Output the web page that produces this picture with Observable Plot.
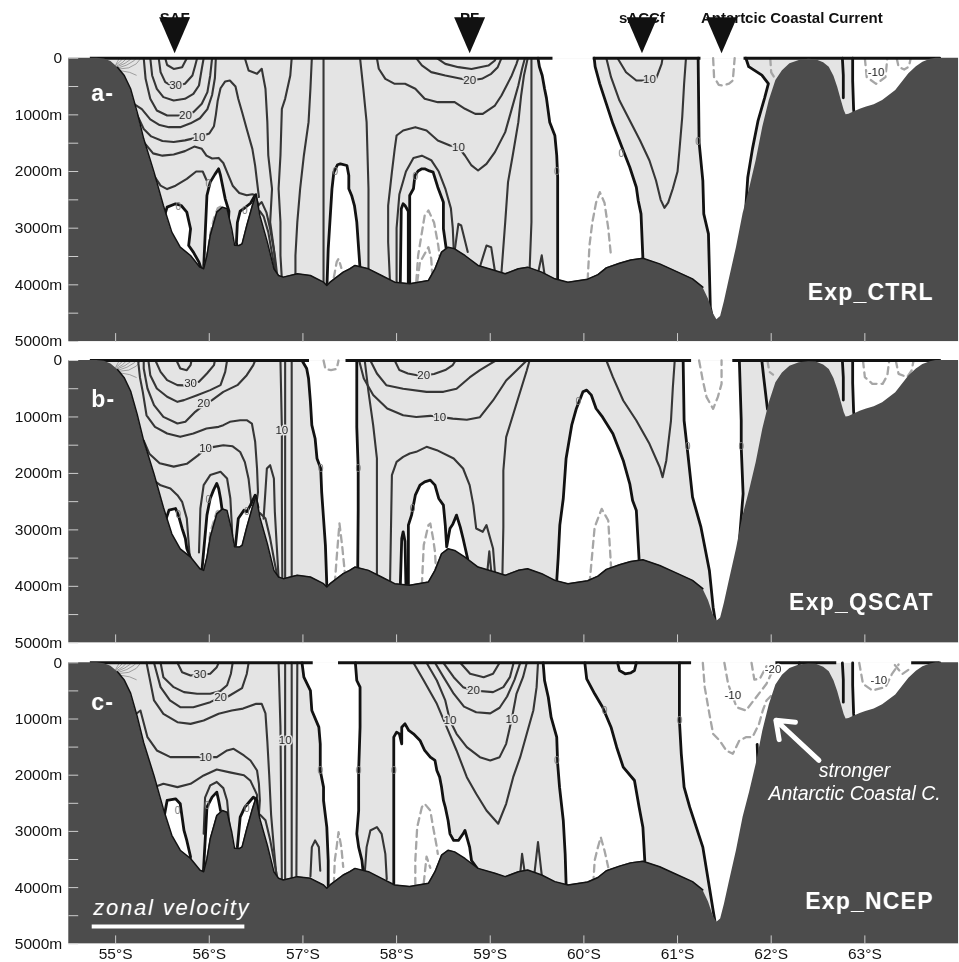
<!DOCTYPE html>
<html>
<head>
<meta charset="utf-8">
<script src="https://cdn.jsdelivr.net/npm/d3@7"></script>
<script src="https://cdn.jsdelivr.net/npm/@observablehq/plot@0.6"></script>
<style>
  html, body { margin: 0; padding: 0; background: #fff; }
  #chart { position: relative; width: 959px; height: 962px; overflow: hidden; filter: grayscale(100%); }
  #chart svg { position: absolute; left: 0; }
</style>
</head>
<body>
<div id="chart"></div>
<script>
// ---------- axes ----------
const latTicks = [55, 56, 57, 58, 59, 60, 61, 62, 63];
const depthLabels = [0, 1000, 2000, 3000, 4000, 5000];
const depthTicks = [0, 500, 1000, 1500, 2000, 2500, 3000, 3500, 4000, 4500, 5000];

// ---------- fronts marked above the first section ----------
const fronts = ["SAF", "PF", "sACCf", "Antartcic Coastal Current"];
const frontLats = [55.63, 58.78, 60.62, 61.47];

const experiments = ["Exp_CTRL", "Exp_QSCAT", "Exp_NCEP"];
const panelLetters = ["a-", "b-", "c-"];

// ---------- bottom topography [lat °S, depth m] ----------
const bathymetry = [
  [54.50,0],[54.80,0],[54.88,15],[54.95,60],[55.02,160],[55.09,300],[55.16,540],[55.23,952],[55.30,1423],
  [55.41,2011],[55.51,2600],[55.60,3070],[55.69,3335],[55.80,3482],[55.90,3688],[55.94,3717],[55.975,3482],
  [56.01,3129],[56.08,2717],[56.14,2629],[56.19,2658],[56.24,3011],[56.27,3300],[56.32,3305],[56.35,3276],
  [56.40,2953],[56.46,2600],[56.50,2394],[56.54,2776],[56.62,3246],[56.69,3717],[56.74,3835],[56.79,3864],
  [56.94,3805],[57.08,3835],[57.22,3953],[57.255,4011],[57.29,3953],[57.43,3776],[57.50,3717],[57.556,3658],
  [57.70,3717],[57.84,3835],[57.98,3953],[58.14,3982],[58.34,3923],[58.41,3717],[58.48,3423],[58.55,3335],
  [58.62,3364],[58.73,3482],[58.87,3658],[59.05,3746],[59.16,3805],[59.30,3717],[59.40,3688],[59.55,3776],
  [59.69,3894],[59.83,3953],[60.04,3900],[60.15,3820],[60.24,3700],[60.38,3618],[60.50,3560],[60.63,3530],
  [60.81,3630],[60.95,3735],[61.16,3894],[61.27,4041],[61.33,4250],[61.38,4500],[61.42,4618],[61.46,4560],
  [61.50,4300],[61.55,3924],[61.63,3335],[61.70,2747],[61.77,2300],[61.84,1806],[61.91,1218],[61.98,747],
  [62.05,394],[62.12,220],[62.20,100],[62.30,41],[62.40,20],[62.48,28],[62.56,80],[62.62,159],[62.67,320],
  [62.71,512],[62.75,750],[62.78,924],[62.80,1000],[62.83,990],[62.87,960],[62.95,900],[63.01,865],
  [63.10,820],[63.19,747],[63.33,571],[63.47,276],[63.55,150],[63.62,70],[63.70,20],[63.76,0],[64.00,0]
];

// tightly packed isotachs at the shelf break
const shelfFan = [
  [[55.00,120],[55.02,60],[55.04,0]],
  [[55.00,130],[55.04,70],[55.08,0]],
  [[55.01,140],[55.07,80],[55.12,0]],
  [[55.02,150],[55.10,90],[55.16,20],[55.17,0]],
  [[55.03,170],[55.12,120],[55.20,40],[55.22,0]],
  [[55.04,190],[55.14,170],[55.22,100],[55.27,0]],
  [[55.05,220],[55.15,250],[55.22,300]]
];

// ================= a- Exp_CTRL =================
const surfaceA = [[54.73,59.67],[60.10,61.25],[61.71,63.80]];
const westwardZonesA = [
  [[55.50,2900],[55.55,2629],[55.64,2570],[55.70,2600],[55.76,2717],[55.80,3011],[55.78,3305],[55.83,3423],[55.89,3600],[55.93,3800],[55.70,4300]],
  [[55.93,3900],[55.94,3700],[55.975,2423],[56.01,2187],[56.06,2050],[56.10,1952],[56.12,2070],[56.17,2482],[56.21,2700],[56.20,3000],[56.05,3600]],
  [[56.30,3400],[56.29,3250],[56.30,2900],[56.33,2700],[56.38,2640],[56.44,2560],[56.49,2420],[56.52,2600],[56.45,3100]],
  [[57.255,4100],[57.27,3365],[57.31,2305],[57.33,2011],[57.37,1880],[57.40,1864],[57.47,1894],[57.49,2070],[57.49,2305],[57.52,2423],[57.55,2600],[57.575,2894],[57.61,3717],[57.60,4100]],
  [[58.04,4100],[58.04,3953],[58.05,2658],[58.07,2570],[58.09,2600],[58.125,2700],[58.125,4100]],
  [[58.14,4100],[58.14,2423],[58.18,2305],[58.196,2070],[58.23,1990],[58.27,1952],[58.30,1952],[58.35,1990],[58.39,2011],[58.44,2276],[58.50,2541],[58.50,3011],[58.53,3364],[58.50,4000]],
  [[59.51,0],[59.525,150],[59.555,305],[59.58,540],[59.60,700],[59.635,1129],[59.69,1364],[59.71,1717],[59.72,2100],[59.72,3924],[59.75,4300],[60.60,4300],[60.63,3530],[60.61,2747],[60.58,2512],[60.56,2277],[60.49,1924],[60.42,1629],[60.31,1159],[60.24,806],[60.17,453],[60.12,150],[60.11,0]],
  [[61.22,0],[61.23,1480],[61.27,2159],[61.28,2747],[61.33,3100],[61.35,4394],[61.40,4800],[61.70,4800],[61.73,2600],[61.75,2100],[61.80,1600],[61.86,1100],[61.93,700],[61.97,450],[61.90,300],[61.76,150],[61.73,0]],
  [[62.87,0],[62.87,400],[62.88,900],[62.90,1200],[63.80,1200],[63.80,0]]
];
const zeroLinesA = [
  [[62.76,0],[62.77,300],[62.77,700]]
];
const eastwardA = [
  [35, [[55.53,0],[55.55,120],[55.62,190],[55.71,160],[55.76,0]]],
  [30, [[55.46,0],[55.48,246],[55.53,423],[55.58,470],[55.66,480],[55.74,452],[55.82,305],[55.85,128],[55.87,0]]],
  [25, [[55.37,0],[55.39,305],[55.44,540],[55.51,687],[55.62,746],[55.74,717],[55.83,629],[55.89,482],[55.92,187],[55.94,0]]],
  [20, [[55.30,0],[55.32,364],[55.37,717],[55.44,923],[55.55,1011],[55.67,1011],[55.83,952],[55.92,805],[55.98,599],[56.01,305],[56.03,0]]],
  [15, [[55.19,800],[55.28,900],[55.37,1080],[55.47,1180],[55.57,1217],[55.69,1217],[55.80,1150],[55.90,1060],[55.98,900],[56.03,650],[56.06,350],[56.07,0]]],
  [10, [[55.23,1000],[55.30,1250],[55.38,1380],[55.50,1460],[55.62,1480],[55.74,1450],[55.89,1393],[56.00,1330],[56.05,1200],[56.07,1000],[56.09,750],[56.12,530],[56.17,410],[56.22,393],[56.28,500],[56.31,720],[56.35,950],[56.40,1250],[56.46,1600],[56.49,1900],[56.51,2180],[56.53,2450]]],
  [5, [[55.31,1500],[55.40,1680],[55.50,1720],[55.62,1700],[55.74,1640],[55.84,1560],[55.92,1600],[55.97,1720],[56.03,1770],[56.10,1760],[56.15,1850],[56.20,2050],[56.25,2250],[56.32,2380],[56.40,2420],[56.46,2400],[56.50,2420]]],
  [5, [[55.40,2050],[55.48,2250],[55.55,2310],[55.64,2250],[55.76,2130],[55.86,2000],[55.93,2000],[55.97,2150]]],
  [10, [[56.38,0],[56.42,217],[56.51,276],[56.56,187],[56.60,540],[56.62,1129],[56.63,1717],[56.67,2305],[56.65,2894],[56.69,3364],[56.71,3750]]],
  [10, [[56.88,0],[56.865,305],[56.81,717],[56.775,894],[56.76,1717],[56.74,2305],[56.76,2894],[56.76,3482],[56.775,3900]]],
  [5, [[57.095,0],[57.08,540],[57.06,1129],[57.01,1717],[56.97,2305],[56.94,2894],[56.92,3482],[56.92,3900]]],
  [5, [[57.22,0],[57.22,4000]]],
  [10, [[56.52,2600],[56.56,2540],[56.61,2720],[56.65,3010],[56.70,3480],[56.73,3900]]],
  [5, [[56.54,2700],[56.58,2790],[56.63,3070],[56.68,3540],[56.72,3900]]],
  [5, [[57.61,0],[57.645,540],[57.68,1129],[57.70,2305],[57.70,3750]]],
  [15, [[57.79,0],[57.81,187],[57.88,364],[57.98,452],[58.09,452],[58.20,540],[58.30,717],[58.44,776],[58.62,776],[58.73,893],[58.84,982],[58.92,982],[59.05,835],[59.12,658],[59.23,305],[59.28,100],[59.30,0]]],
  [20, [[58.21,0],[58.27,128],[58.37,246],[58.52,305],[58.69,364],[58.78,393],[58.91,364],[59.01,276],[59.08,158],[59.12,0]]],
  [25, [[58.43,0],[58.52,100],[58.66,158],[58.80,190],[58.98,130],[59.05,40],[59.06,0]]],
  [10, [[57.93,3960],[57.91,3247],[57.91,2600],[57.95,2011],[57.98,1600],[58.00,1364],[58.07,1276],[58.20,1217],[58.32,1276],[58.44,1452],[58.57,1540],[58.66,1570],[58.73,1717],[58.80,1893],[58.87,1982],[58.96,1864],[59.05,1658],[59.16,1305],[59.23,894],[59.30,482],[59.34,187],[59.37,0]]],
  [5, [[58.00,3970],[58.00,3000],[58.03,2400],[58.10,2000],[58.18,1760],[58.27,1720],[58.37,1800],[58.45,2000],[58.52,2300],[58.58,2650],[58.60,3000],[58.61,3370]]],
  [5, [[59.12,3776],[59.16,2894],[59.19,2188],[59.24,1717],[59.30,1129],[59.33,658],[59.36,305],[59.40,0]]],
  [5, [[59.44,0],[59.44,1717],[59.44,2894],[59.42,3750]]],
  [5, [[58.62,3400],[58.66,2923],[58.69,2953],[58.76,3420]]],
  [5, [[58.89,3680],[58.96,3305],[59.01,3335],[59.05,3760]]],
  [5, [[59.51,3800],[59.55,3480],[59.58,3820]]],
  [10, [[60.36,0],[60.45,247],[60.56,394],[60.67,394],[60.77,365],[60.83,100],[60.84,0]]],
  [5, [[60.24,0],[60.29,335],[60.38,747],[60.49,1100],[60.60,1453],[60.70,1806],[60.77,2159],[60.82,2500],[60.86,2640],[60.90,2550],[60.95,2300],[61.00,2000],[61.02,1629],[61.05,1041],[61.07,453],[61.09,0]]]
];
const westwardA = [
  [-5, [[55.975,3540],[56.01,3100],[56.05,2830],[56.09,2650],[56.12,2620]]],
  [-5, [[57.33,3870],[57.36,3600],[57.38,3540],[57.41,3700]]],
  [-5, [[58.21,3950],[58.23,3482],[58.30,2776],[58.34,2688],[58.40,2900],[58.445,3305],[58.46,3500]]],
  [-10, [[58.22,3950],[58.25,3600],[58.34,3335],[58.37,3541],[58.38,3800]]],
  [-5, [[60.04,3920],[60.06,3300],[60.09,2900],[60.13,2550],[60.17,2365],[60.22,2550],[60.26,3000],[60.29,3500]]],
  [-5, [[61.38,0],[61.39,335],[61.44,470],[61.48,482],[61.55,450],[61.59,394],[61.61,0]]],
  [-5, [[61.99,0],[62.00,250],[62.03,330]]],
  [-10, [[63.00,0],[63.02,335],[63.12,453],[63.22,335],[63.24,0]]],
  [-5, [[63.34,0],[63.36,150],[63.42,200],[63.47,150],[63.49,0]]]
];
const labelsA = [
  ["30",55.64,480],["20",55.745,1000],["10",55.89,1393],["20",58.78,393],["10",58.66,1570],["10",60.70,380],["-10",63.12,247]
];
const zeroLabelsA = [[55.67,2629],[55.99,2217],[56.38,2688],[57.345,2011],[58.20,2100],[59.71,2011],[60.40,1690],[61.22,1482]];

// ================= b- Exp_QSCAT =================
const surfaceB = [[54.73,57.07],[57.46,61.15],[61.59,63.80]];
const westwardZonesB = [
  [[55.52,2900],[55.57,2651],[55.64,2621],[55.67,2739],[55.71,2975],[55.745,3152],[55.76,3330],[55.80,3500],[55.70,4200]],
  [[55.92,3900],[55.92,3743],[55.975,2739],[56.01,2444],[56.045,2296],[56.08,2178],[56.10,2267],[56.12,2444],[56.135,2621],[56.15,2709],[56.20,3000],[56.05,3600]],
  [[56.27,3400],[56.28,3270],[56.31,2798],[56.37,2651],[56.40,2680],[56.44,2562],[56.49,2385],[56.52,2600],[56.45,3100]],
  [[56.99,0],[57.04,142],[57.06,319],[57.08,732],[57.095,1145],[57.13,1381],[57.15,1735],[57.19,1912],[57.20,2326],[57.22,2798],[57.24,3270],[57.255,3979],[57.30,4400],[57.58,4400],[57.585,3683],[57.59,2650],[57.59,1912],[57.575,1180],[57.575,0]],
  [[58.04,4100],[58.04,3979],[58.055,3152],[58.07,3034],[58.09,3200],[58.10,3979],[58.10,4100]],
  [[58.126,4100],[58.126,2916],[58.16,2739],[58.20,2385],[58.25,2208],[58.30,2150],[58.36,2119],[58.41,2208],[58.45,2444],[58.50,2562],[58.52,2916],[58.535,3300],[58.57,2975],[58.60,2900],[58.64,2739],[58.68,2950],[58.71,3152],[58.76,3520],[58.60,4000],[58.30,4200]],
  [[59.70,4100],[59.707,3979],[59.725,3506],[59.743,2916],[59.78,2444],[59.81,1735],[59.87,1145],[59.92,850],[59.99,555],[60.03,525],[60.08,614],[60.13,850],[60.20,1004],[60.31,1298],[60.42,1771],[60.49,2184],[60.52,2479],[60.56,2656],[60.59,3542],[60.60,4100]],
  [[61.06,0],[61.07,1063],[61.11,1653],[61.16,2421],[61.25,2952],[61.34,3719],[61.38,4369],[61.42,4800],[61.60,4800],[61.66,3200],[61.70,2361],[61.68,1535],[61.68,1063],[61.66,0]],
  [[62.87,0],[62.87,400],[62.88,900],[62.90,1200],[63.80,1200],[63.80,0]]
];
const zeroLinesB = [
  [[62.76,0],[62.77,300],[62.77,700]],
  [[61.90,0],[61.92,300],[61.96,860]]
];
const eastwardB = [
  [35, [[55.65,0],[55.69,142],[55.76,172],[55.80,83],[55.81,0]]],
  [30, [[55.425,0],[55.48,201],[55.55,348],[55.66,437],[55.73,440],[55.80,410],[55.89,378],[55.975,230],[56.05,83],[56.06,0]]],
  [25, [[55.35,0],[55.37,260],[55.44,496],[55.55,643],[55.66,732],[55.73,702],[55.87,614],[56.01,525],[56.12,437],[56.17,201],[56.19,0]]],
  [20, [[55.30,0],[55.30,142],[55.34,496],[55.41,791],[55.51,998],[55.66,1116],[55.745,1086],[55.85,909],[55.94,790],[56.03,702],[56.15,555],[56.30,437],[56.40,260],[56.47,83],[56.49,0]]],
  [15, [[55.24,0],[55.26,300],[55.29,555],[55.33,970],[55.42,1175],[55.55,1293],[55.69,1352],[55.83,1293],[55.97,1205],[56.10,1175],[56.15,1145],[56.22,1086],[56.33,1057],[56.40,1057],[56.455,1116],[56.49,1440],[56.51,1913],[56.52,2330],[56.51,2450]]],
  [10, [[55.29,1450],[55.30,1420],[55.36,1650],[55.47,1820],[55.62,1880],[55.76,1830],[55.88,1680],[55.96,1558],[56.05,1530],[56.15,1500],[56.25,1520],[56.33,1620],[56.38,1800],[56.42,2100],[56.44,2400],[56.45,2560]]],
  [5, [[55.43,2150],[55.48,2210],[55.585,2267],[55.66,2385],[55.71,2503],[55.76,2800],[55.79,3450]]],
  [5, [[55.89,3400],[55.905,2621],[55.94,2208],[56.01,2030],[56.12,1972],[56.19,2090],[56.225,2444],[56.24,2900],[56.245,3100]]],
  [5, [[56.58,2800],[56.60,2300],[56.615,1913],[56.65,1854],[56.69,2090],[56.70,2680],[56.72,3270],[56.74,3850]]],
  [10, [[56.54,2700],[56.60,2800],[56.65,3150],[56.70,3600],[56.73,3850]]],
  [10, [[56.76,0],[56.775,1200],[56.775,2400],[56.78,3880]]],
  [10, [[56.81,0],[56.81,3880]]],
  [5, [[56.88,0],[56.88,3850]]],
  [20, [[57.98,0],[58.03,170],[58.12,230],[58.22,260],[58.29,265],[58.40,240],[58.52,170],[58.60,80],[58.63,0]]],
  [15, [[57.72,0],[57.79,230],[57.89,437],[58.07,500],[58.32,555],[58.50,555],[58.64,500],[58.78,300],[58.89,170],[59.00,60],[59.06,0]]],
  [10, [[57.60,0],[57.65,320],[57.75,610],[57.90,850],[58.07,970],[58.21,1000],[58.36,980],[58.46,998],[58.60,1030],[58.75,1050],[58.89,1004],[59.03,708],[59.17,354],[59.28,177],[59.39,0]]],
  [5, [[57.93,3960],[57.95,2030],[58.00,1795],[58.07,1706],[58.14,1647],[58.21,1618],[58.32,1529],[58.43,1588],[58.61,1735],[58.71,1913],[58.78,2208],[58.82,2562],[58.85,2975],[58.92,3034],[58.96,2916],[59.03,3329],[59.05,3760]]],
  [5, [[59.13,3800],[59.14,2952],[59.14,1948],[59.17,1358],[59.28,767],[59.39,177],[59.42,0]]],
  [5, [[57.66,0],[57.70,555],[57.75,1145],[57.79,1735],[57.79,2916],[57.79,3800]]],
  [5, [[58.97,3720],[58.99,3380],[59.01,3720]]],
  [5, [[60.24,0],[60.31,295],[60.42,708],[60.56,1063],[60.70,1476],[60.81,1890],[60.84,2066],[60.88,1771],[60.93,1063],[60.95,472],[60.97,0]]]
];
const westwardB = [
  [-5, [[55.975,3600],[56.01,3050],[56.08,2680],[56.12,2640]]],
  [-5, [[57.22,0],[57.24,150],[57.30,170],[57.36,150],[57.38,0]]],
  [-5, [[57.34,3950],[57.36,3500],[57.39,2887],[57.42,3300],[57.45,3800]]],
  [-5, [[58.27,3979],[58.29,3270],[58.34,2916],[58.36,2887],[58.39,3152],[58.41,3388],[58.42,3700]]],
  [-5, [[60.06,3955],[60.115,2952],[60.19,2627],[60.26,2833],[60.29,3660]]],
  [-5, [[61.23,0],[61.27,354],[61.31,649],[61.38,856],[61.43,649],[61.47,413],[61.47,0]]],
  [-5, [[61.96,0],[61.98,200],[62.02,250]]],
  [-10, [[62.98,0],[63.00,295],[63.08,413],[63.19,413],[63.24,266],[63.26,0]]],
  [-5, [[63.33,0],[63.36,236],[63.45,295],[63.50,177],[63.52,0]]]
];
const labelsB = [
  ["30",55.80,407],["20",55.94,762],["10",55.96,1558],["10",56.775,1234],["20",58.29,262],["10",58.46,998]
];
const zeroLabelsB = [[55.67,2739],[55.99,2470],[56.40,2680],[57.19,1912],[57.59,1912],[58.17,2621],[59.94,740],[61.11,1535],[61.68,1535]];

// ================= c- Exp_NCEP =================
const surfaceC = [[54.73,57.11],[57.38,61.15],[62.05,62.70],[63.50,63.80]];
const westwardZonesC = [
  [[55.50,2900],[55.55,2450],[55.64,2420],[55.69,2509],[55.71,2746],[55.73,2983],[55.76,3161],[55.80,3450],[55.70,4200]],
  [[55.93,3900],[55.94,3636],[55.96,3043],[55.975,2568],[56.03,2390],[56.08,2301],[56.10,2450],[56.12,2628],[56.17,2805],[56.20,3100],[56.05,3600]],
  [[56.29,3400],[56.30,3280],[56.33,2746],[56.38,2568],[56.44,2450],[56.47,2390],[56.51,2450],[56.52,2700],[56.45,3100]],
  [[56.99,0],[57.01,256],[57.08,493],[57.095,849],[57.17,1145],[57.185,1442],[57.185,1916],[57.22,2212],[57.22,2450],[57.255,2924],[57.27,3517],[57.27,3991],[57.30,4400],[57.60,4400],[57.645,3754],[57.63,3517],[57.595,3280],[57.575,3042],[57.595,2628],[57.595,1916],[57.61,1145],[57.61,433],[57.575,315],[57.56,0]],
  [[57.97,4100],[57.97,1323],[58.00,1234],[58.03,1264],[58.055,1442],[58.055,1145],[58.09,1086],[58.13,1204],[58.18,1264],[58.25,1382],[58.30,1560],[58.36,1679],[58.41,1738],[58.43,1916],[58.46,2035],[58.48,2212],[58.50,2450],[58.52,2568],[58.55,2805],[58.57,3043],[58.61,3161],[58.66,3161],[58.71,3043],[58.73,2983],[58.78,3280],[58.80,3517],[58.87,3680],[58.85,4100]],
  [[59.565,0],[59.58,315],[59.62,612],[59.65,968],[59.71,1324],[59.72,1797],[59.74,2213],[59.78,2806],[59.80,3398],[59.81,3932],[59.85,4300],[60.60,4300],[60.65,3518],[60.63,2925],[60.59,2569],[60.54,2094],[60.42,1857],[60.35,1502],[60.29,1146],[60.20,790],[60.115,552],[60.03,285],[60.01,0]],
  [[60.36,0],[60.38,137],[60.44,196],[60.50,180],[60.54,137],[60.56,0]],
  [[61.02,0],[61.02,1026],[61.04,1619],[61.07,2213],[61.13,2569],[61.20,2925],[61.27,3280],[61.34,3992],[61.38,4407],[61.42,4800],[61.80,4800],[62.30,1500],[62.30,0]],
  [[62.87,0],[62.87,400],[62.88,900],[62.90,1200],[63.80,1200],[63.80,0]]
];
const zeroLinesC = [
  [[62.76,0],[62.77,300],[62.77,700]],
  [[61.85,1450],[61.86,1880]]
];
const eastwardC = [
  [30, [[55.66,0],[55.71,167],[55.80,226],[55.90,210],[56.01,196],[56.08,78],[56.10,0]]],
  [25, [[55.48,0],[55.51,256],[55.62,433],[55.73,522],[55.87,552],[56.01,552],[56.12,500],[56.19,400],[56.23,200],[56.25,0]]],
  [20, [[55.41,0],[55.48,433],[55.58,670],[55.69,790],[55.83,790],[56.01,700],[56.12,611],[56.20,600],[56.35,450],[56.40,200],[56.42,0]]],
  [15, [[55.33,0],[55.36,250],[55.41,670],[55.51,908],[55.66,1057],[55.80,1087],[55.94,1027],[56.10,908],[56.24,849],[56.36,815],[56.50,730],[56.56,730],[56.60,900],[56.62,1400],[56.64,2000],[56.66,2700],[56.69,3300],[56.72,3850]]],
  [10, [[55.21,920],[55.265,849],[55.34,1323],[55.44,1560],[55.585,1679],[55.76,1679],[55.96,1679],[56.08,1679],[56.19,1560],[56.26,1530],[56.37,1649],[56.44,1738],[56.51,1916],[56.53,2153],[56.54,2450],[56.53,2700]]],
  [5, [[55.43,2200],[55.51,2153],[55.66,2212],[55.80,2153],[55.94,2005],[56.08,1900],[56.22,1950],[56.37,2000],[56.44,2100],[56.51,2350],[56.51,2450]]],
  [5, [[55.94,3043],[55.955,2400],[56.01,2180],[56.08,2120],[56.15,2230],[56.19,2450],[56.21,2805],[56.23,3100]]],
  [10, [[56.54,2700],[56.60,2800],[56.65,3150],[56.70,3600],[56.73,3850]]],
  [10, [[56.74,0],[56.76,1145],[56.775,3860]]],
  [10, [[56.81,0],[56.81,3860]]],
  [5, [[56.88,0],[56.88,3830]]],
  [5, [[56.94,0],[56.93,3810]]],
  [5, [[57.08,3800],[57.095,3280],[57.13,3161],[57.17,3280],[57.185,3700]]],
  [5, [[57.66,3740],[57.68,3280],[57.72,2983],[57.79,2924],[57.84,3043],[57.88,3400],[57.895,3850]]],
  [25, [[58.68,0],[58.785,196],[58.93,256],[59.03,196],[59.10,0]]],
  [20, [[58.50,0],[58.61,256],[58.71,433],[58.82,493],[59.03,522],[59.14,433],[59.21,256],[59.25,0]]],
  [15, [[58.41,0],[58.50,250],[58.61,550],[58.72,780],[58.85,880],[59.00,900],[59.10,800],[59.18,600],[59.26,300],[59.32,0]]],
  [10, [[58.32,0],[58.43,315],[58.52,670],[58.57,1026],[58.64,1264],[58.75,1501],[58.89,1679],[59.00,1738],[59.10,1679],[59.17,1442],[59.21,1145],[59.23,1000],[59.28,552],[59.35,256],[59.39,0]]],
  [5, [[58.18,0],[58.29,315],[58.43,730],[58.535,1145],[58.64,1560],[58.75,2035],[58.85,2331],[58.96,2628],[59.085,2864],[59.17,2509],[59.245,2035],[59.32,1679],[59.39,1264],[59.46,849],[59.495,433],[59.51,0]]],
  [5, [[59.47,3780],[59.51,3191],[59.55,3780]]],
  [5, [[59.32,3750],[59.34,3400],[59.37,3750]]]
];
const westwardC = [
  [-5, [[55.99,3500],[56.01,3250],[56.065,2924],[56.10,2746],[56.12,2690]]],
  [-5, [[57.33,3950],[57.34,3517],[57.36,3280],[57.38,3013],[57.41,3280],[57.43,3630]]],
  [-5, [[58.20,3950],[58.20,3517],[58.22,2924],[58.27,2568],[58.30,2509],[58.36,2628],[58.39,2924],[58.43,3280],[58.44,3400]]],
  [-10, [[58.29,3920],[58.32,3450],[58.36,3650]]],
  [-5, [[60.10,3932],[60.115,3518],[60.15,3280],[60.18,3103],[60.22,3340],[60.26,3636]]],
  [-5, [[61.27,0],[61.29,433],[61.34,908],[61.38,1264],[61.45,1383],[61.52,1561],[61.59,1620],[61.66,1383],[61.73,1324],[61.80,1324],[61.87,1087],[61.91,849],[61.95,671],[62.02,552]]],
  [-10, [[61.50,0],[61.54,374],[61.63,790],[61.73,849],[61.84,612],[61.95,374],[62.00,196]]],
  [-20, [[61.79,0],[61.82,300],[61.88,280],[61.95,60]]],
  [-10, [[62.94,0],[62.98,374],[63.08,493],[63.22,433],[63.29,196],[63.36,30]]],
  [-10, [[63.32,40],[63.40,200],[63.47,120]]]
];
const labelsC = [
  ["30",55.90,196],["20",56.12,611],["10",55.96,1679],["10",56.81,1382],["20",58.82,493],["10",58.57,1026],["10",59.23,1000],
  ["-10",61.59,582],["-20",62.02,107],["-10",63.15,315]
];
const zeroLabelsC = [[55.66,2628],[55.975,2540],[56.40,2600],[57.185,1916],[57.595,1916],[57.97,1916],[59.71,1738],[60.22,849],[61.02,1026]];

// ---------- styling ----------
const WATER = "#e3e4e6";
const SEAFLOOR = "#4c4c4e";
const CONTOUR = "#363636";
const ZERO = "#121212";
const WESTWARD = "#a6a6a6";
const TICK = "#cdcdcd";
const FONT = "'Liberation Sans', Arial, Helvetica, sans-serif";

const asRows = (lines) => lines.flatMap((p, id) => p.map(([lat, depth]) => ({lat, depth, id})));
const asLevelRows = (lines) => lines.flatMap(([level, p], id) => p.map(([lat, depth]) => ({lat, depth, level, id})));
const tickShape = {draw(ctx, l) { ctx.moveTo(0, 0); ctx.lineTo(0, -l); }};
const arrowhead = {draw(ctx) { ctx.moveTo(-15.5, -36); ctx.lineTo(15.5, -36); ctx.lineTo(0, 0); ctx.closePath(); }};

function section(p) {
  const zoneRows = asRows(p.zones);
  const labels = p.labels.map(([text, lat, depth]) => ({text, lat, depth}));
  const marks = [
    Plot.frame({fill: WATER, stroke: "none"}),
    Plot.line(zoneRows, {x: "lat", y: "depth", z: "id", fill: "white", stroke: "none"}),
    Plot.line(asRows(shelfFan), {x: "lat", y: "depth", z: "id", stroke: "#8c8c8c", strokeWidth: 0.8}),
    Plot.line(asLevelRows(p.east), {x: "lat", y: "depth", z: "id", stroke: CONTOUR, strokeWidth: 2.1, strokeLinejoin: "round"}),
    Plot.line(asLevelRows(p.west), {x: "lat", y: "depth", z: "id", stroke: WESTWARD, strokeWidth: 2.3, strokeDasharray: "7,5"}),
    Plot.line(zoneRows, {x: "lat", y: "depth", z: "id", stroke: ZERO, strokeWidth: 2.8, strokeLinejoin: "round"}),
    Plot.line(asRows(p.zeroLines), {x: "lat", y: "depth", z: "id", stroke: ZERO, strokeWidth: 2.8, strokeLinejoin: "round"}),
    Plot.ruleY(p.surface, {y: 0, x1: d => d[0], x2: d => d[1], stroke: ZERO, strokeWidth: 3}),
    Plot.areaY(bathymetry, {x: d => d[0], y1: d => d[1], y2: 5000, fill: SEAFLOOR}),
    Plot.line(bathymetry.filter(d => d[0] >= 55.0 && d[0] <= 61.3), {x: d => d[0], y: d => d[1], stroke: ZERO, strokeWidth: 1.5}),
    Plot.text(labels.filter(d => !d.text.startsWith("-")), {x: "lat", y: "depth", text: "text", fontSize: 11.5, fill: "#2a2a2a", stroke: WATER, strokeWidth: 3, paintOrder: "stroke"}),
    Plot.text(labels.filter(d => d.text.startsWith("-")), {x: "lat", y: "depth", text: "text", fontSize: 11.5, fill: "#2a2a2a", stroke: "white", strokeWidth: 3, paintOrder: "stroke"}),
    Plot.text(p.zeroLabels, {x: d => d[0], y: d => d[1], text: () => "0", fontSize: 10, fill: "#7a7a7a"}),
    Plot.vector(depthTicks, {x: 54.5, y: d => d, length: 9, rotate: 90, anchor: "start", shape: tickShape, stroke: TICK, strokeWidth: 1}),
    Plot.vector(latTicks, {x: d => d, y: 5000, length: 8, rotate: 0, anchor: "start", shape: tickShape, stroke: TICK, strokeWidth: 1}),
    Plot.text(depthLabels, {x: 54.5, y: d => d, text: d => d === 0 ? "0" : `${d}m`, textAnchor: "end", dx: -6.6, fontSize: 15.5, fill: "#111"}),
    Plot.text([p.letter], {x: 54.74, y: p.letterDepth, text: d => d, textAnchor: "start", lineAnchor: "bottom", fontWeight: "bold", fontSize: 23, fill: "white"}),
    Plot.text([p.experiment], {x: 63.735, y: p.expDepth, text: d => d, textAnchor: "end", lineAnchor: "bottom", fontWeight: "bold", fontSize: 23, fill: "white"}),
    ...(p.extra || [])
  ];
  const svg = Plot.plot({
    width: 959,
    height: p.height,
    marginTop: p.top,
    marginBottom: p.bottom,
    marginLeft: 68.3,
    marginRight: 1,
    x: {domain: [54.5, 64], range: [68.3, 958], axis: null},
    y: {domain: [0, 5000], range: [p.top, p.height - p.bottom], axis: null},
    style: {fontFamily: FONT, background: "transparent", overflow: "visible"},
    marks
  });
  svg.querySelectorAll("text").forEach(t => {
    const s = t.textContent;
    if (experiments.includes(s) || panelLetters.includes(s)) t.setAttribute("letter-spacing", "1.2");
    if (s === "zonal velocity") t.setAttribute("letter-spacing", "1.8");
  });
  svg.style.top = p.offset + "px";
  return svg;
}

const frontMarks = [
  Plot.text(fronts.slice(0, 3), {x: (d, i) => frontLats[i], y: -630, text: d => d, lineAnchor: "bottom", fontWeight: "bold", fontSize: 15, fill: "#111"}),
  Plot.text(fronts.slice(3), {x: frontLats[3], y: -630, text: d => d, dx: -20.6, textAnchor: "start", lineAnchor: "bottom", fontWeight: "bold", fontSize: 15, fill: "#111"}),
  Plot.dot(frontLats, {x: d => d, y: -88, symbol: arrowhead, fill: "#111", stroke: "none"})
];

const bottomMarks = [
  Plot.arrow([0], {x1: 62.51, y1: 1736, x2: 62.05, y2: 1023, stroke: "white", strokeWidth: 5, headLength: 7, headAngle: 75}),
  Plot.text(["stronger\nAntarctic Coastal C."], {x: 62.89, y: 2450, text: d => d, lineAnchor: "bottom", lineHeight: 1.195, fontStyle: "italic", fontSize: 19.5, fill: "white"}),
  Plot.text(["zonal velocity"], {x: 54.76, y: 4496, text: d => d, textAnchor: "start", lineAnchor: "bottom", fontStyle: "italic", fontSize: 22, fill: "white"}),
  Plot.ruleY([4691], {x1: 54.75, x2: 56.38, stroke: "white", strokeWidth: 4}),
  Plot.text(latTicks, {x: d => d, y: 5000, text: d => `${d}°S`, dy: 15.4, lineAnchor: "bottom", fontSize: 15.5, fill: "#111"})
];

const chart = document.getElementById("chart");
chart.append(section({
  offset: 0, height: 350, top: 57.7, bottom: 9,
  zones: westwardZonesA, zeroLines: zeroLinesA, east: eastwardA, west: westwardA,
  labels: labelsA, zeroLabels: zeroLabelsA, surface: surfaceA,
  letter: panelLetters[0], letterDepth: 764, experiment: experiments[0], expDepth: 4264,
  extra: frontMarks
}));
chart.append(section({
  offset: 350, height: 300, top: 10, bottom: 7.7,
  zones: westwardZonesB, zeroLines: zeroLinesB, east: eastwardB, west: westwardB,
  labels: labelsB, zeroLabels: zeroLabelsB, surface: surfaceB,
  letter: panelLetters[1], letterDepth: 815, experiment: experiments[1], expDepth: 4415
}));
chart.append(section({
  offset: 650, height: 312, top: 12.3, bottom: 18.7,
  zones: westwardZonesC, zeroLines: zeroLinesC, east: eastwardC, west: westwardC,
  labels: labelsC, zeroLabels: zeroLabelsC, surface: surfaceC,
  letter: panelLetters[2], letterDepth: 836, experiment: experiments[2], expDepth: 4376,
  extra: bottomMarks
}));
</script>
</body>
</html>
